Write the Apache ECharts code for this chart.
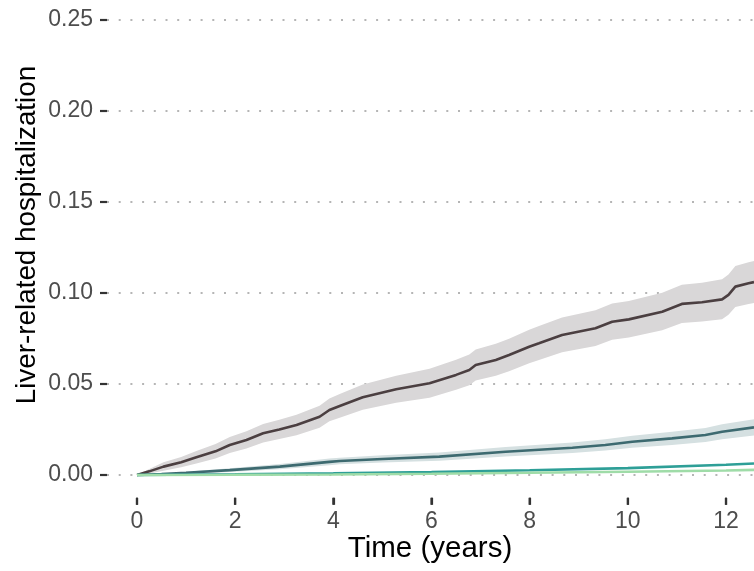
<!DOCTYPE html>
<html>
<head>
<meta charset="utf-8">
<script src="https://cdn.jsdelivr.net/npm/echarts@6/dist/echarts.min.js"></script>
<style>html,body{margin:0;padding:0;background:#fff}#c{width:754px;height:571px}</style>
</head>
<body>
<div id="c"></div>
<script>
// ---- data ----
const xTicks = [0, 2, 4, 6, 8, 10, 12];
const yTicks = [0, 0.05, 0.10, 0.15, 0.20, 0.25];
const yTickLabels = ['0.00', '0.05', '0.10', '0.15', '0.20', '0.25'];
const xTitle = 'Time (years)';
const yTitle = 'Liver-related hospitalization';

// group 1 (dark)
const t1 = [0, 0.25, 0.54, 0.9, 1.21, 1.6, 1.89, 2.23, 2.57, 2.9, 3.25, 3.72, 3.92, 4.13, 4.6, 5.28, 5.96, 6.5, 6.77, 6.9, 7.31, 7.58, 7.99, 8.19, 8.66, 9.34, 9.68, 10.02, 10.7, 11.1, 11.51, 11.92, 12.05, 12.19, 12.46, 12.57];
const v1 = [0, 0.002, 0.0046, 0.007, 0.0097, 0.013, 0.0165, 0.0192, 0.0229, 0.025, 0.0275, 0.032, 0.0357, 0.0379, 0.0427, 0.0471, 0.0504, 0.055, 0.0577, 0.0604, 0.0632, 0.0659, 0.0705, 0.0724, 0.0769, 0.0806, 0.0842, 0.0855, 0.0897, 0.094, 0.0949, 0.0965, 0.099, 0.1035, 0.1053, 0.106];
const lo1 = [0, 0.0008, 0.0024, 0.0042, 0.0063, 0.009, 0.0121, 0.0146, 0.0179, 0.0198, 0.0219, 0.026, 0.0295, 0.0314, 0.0358, 0.0397, 0.0425, 0.0469, 0.0493, 0.0519, 0.0545, 0.057, 0.0614, 0.0632, 0.0674, 0.0709, 0.0743, 0.0755, 0.0795, 0.0835, 0.0843, 0.0856, 0.088, 0.0923, 0.0939, 0.0945];
const hi1 = [0, 0.0033, 0.007, 0.0099, 0.0132, 0.017, 0.0209, 0.024, 0.028, 0.0304, 0.0331, 0.0381, 0.0421, 0.0445, 0.0497, 0.0546, 0.0584, 0.0633, 0.0662, 0.069, 0.0721, 0.0749, 0.0798, 0.0818, 0.0865, 0.0905, 0.0942, 0.0956, 0.1001, 0.1046, 0.1057, 0.1075, 0.1101, 0.1149, 0.1169, 0.1176];

// group 2 (teal grey)
const t2 = [0, 0.5, 1, 1.89, 2.91, 3.92, 4.13, 5, 6.16, 7.51, 8.87, 9.54, 10.09, 10.9, 11.58, 11.92, 12.57];
const v2 = [0, 0.0005, 0.0012, 0.0027, 0.0046, 0.0072, 0.0077, 0.0088, 0.0101, 0.0128, 0.015, 0.0165, 0.0183, 0.0201, 0.022, 0.0238, 0.0262];
const lo2 = [0, 0.0002, 0.0006, 0.0017, 0.0032, 0.0054, 0.0059, 0.0068, 0.0078, 0.0102, 0.0121, 0.0134, 0.015, 0.0165, 0.0182, 0.0197, 0.0217];
const hi2 = [0, 0.0008, 0.0018, 0.0037, 0.006, 0.009, 0.0095, 0.0108, 0.0124, 0.0154, 0.0179, 0.0196, 0.0216, 0.0237, 0.0258, 0.0279, 0.0307];

// group 3 (teal green)
const t3 = [0, 2, 4, 6, 8, 10, 12, 12.57];
const v3 = [0, 0.0004, 0.0009, 0.0016, 0.0026, 0.0038, 0.0056, 0.0063];

// group 4 (light green)
const t4 = [0, 2, 4, 6, 8, 10, 12, 12.57];
const v4 = [0, 0.0001, 0.0003, 0.0007, 0.0012, 0.0018, 0.0025, 0.0028];

// ---- build ----
const pairs = (t, v) => t.map((x, i) => [x, v[i]]);
const yMin = -0.0125;

function band(name, t, lo, hi, color) {
  return {
    type: 'custom', name: name + '_band', data: [0], silent: true, z: 1, clip: true,
    renderItem: (params, api) => {
      const pts = [];
      for (let i = 0; i < t.length; i++) pts.push(api.coord([t[i], hi[i]]));
      for (let i = t.length - 1; i >= 0; i--) pts.push(api.coord([t[i], lo[i]]));
      return { type: 'polygon', shape: { points: pts }, style: { fill: color } };
    }
  };
}
function line(name, t, v, color) {
  return { type: 'line', name: name, data: pairs(t, v), symbol: 'none',
    lineStyle: { color: color, width: 2.6 }, z: 3 };
}

const font = 'Liberation Sans, Arial, Helvetica, sans-serif';
const chart = echarts.init(document.getElementById('c'), null, { renderer: 'canvas' });
chart.setOption({
  animation: false,
  backgroundColor: '#ffffff',
  grid: { left: 107, right: 0, top: 20, bottom: 73.25, containLabel: false },
  xAxis: {
    type: 'value', min: -0.611, max: 12.57, position: 'bottom',
    axisLine: { show: false, onZero: false },
    axisTick: { show: true, inside: false, customValues: xTicks, length: 7, lineStyle: { color: '#333333', width: 2.2 } },
    axisLabel: { customValues: xTicks, fontSize: 23, color: '#4d4d4d', fontFamily: font, margin: 12 },
    splitLine: { show: false }
  },
  yAxis: {
    type: 'value', min: yMin, max: 0.25, position: 'left',
    axisLine: { show: false, onZero: false },
    axisTick: { show: true, inside: false, customValues: yTicks, length: 7, lineStyle: { color: '#333333', width: 2.2 } },
    axisLabel: { customValues: yTicks, fontSize: 23, color: '#4d4d4d', fontFamily: font, margin: 14,
      formatter: v => yTickLabels[yTicks.findIndex(y => Math.abs(y - v) < 1e-9)] },
    splitLine: { show: true, lineStyle: { color: '#b5b5b5', width: 2, type: [2, 9.7], cap: 'butt' } }
  },
  series: [
    band('g1', t1, lo1, hi1, '#d9d7d8'),
    band('g2', t2, lo2, hi2, '#d5e0e1'),
    line('g1', t1, v1, '#4b3f41'),
    line('g2', t2, v2, '#3d6a70'),
    line('g3', t3, v3, '#2e9f97'),
    line('g4', t4, v4, '#9fdca8')
  ]
});

// titles + x tick marks (tick positions converted through the chart's x scale)
const yBase = chart.convertToPixel({ yAxisIndex: 0 }, yMin);
const tickMarks = xTicks.map(x => {
  const px = chart.convertToPixel({ xAxisIndex: 0 }, x);
  return { type: 'line', silent: true, z: 10,
    shape: { x1: px, y1: yBase, x2: px, y2: yBase + 7 },
    style: { stroke: '#333333', lineWidth: 2.2 } };
});
chart.setOption({
  graphic: [
    { type: 'text', x: 430, y: 549, style: { text: xTitle, fontSize: 29.5, fontFamily: font, fill: '#000',
      align: 'center', verticalAlign: 'middle' } },
    { type: 'text', x: 27, y: 235, rotation: Math.PI / 2,
      style: { text: yTitle, fontSize: 27.8, fontFamily: font, fill: '#000', align: 'center', verticalAlign: 'middle' } },
    ...tickMarks
  ]
});
</script>
</body>
</html>
